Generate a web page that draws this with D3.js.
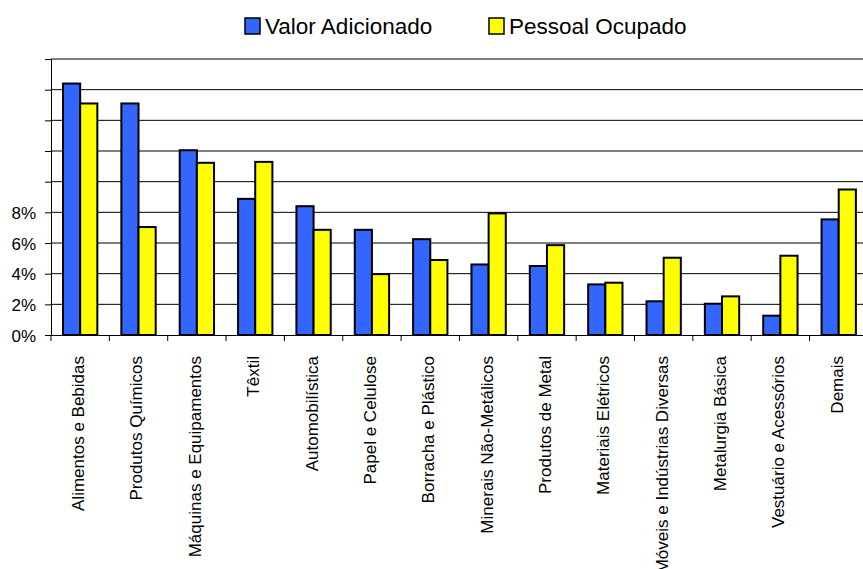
<!DOCTYPE html>
<html>
<head>
<meta charset="utf-8">
<script src="https://cdn.jsdelivr.net/npm/d3@7"></script>
<style>
  body { margin: 0; background: #fff; }
  text { font-family: "Liberation Sans", Arial, sans-serif; fill: #000; }
</style>
</head>
<body>
<div id="chart"></div>
<script>
const categories = [
  "Alimentos e Bebidas", "Produtos Químicos", "Máquinas e Equipamentos", "Têxtil",
  "Automobilística", "Papel e Celulose", "Borracha e Plástico", "Minerais Não-Metálicos",
  "Produtos de Metal", "Materiais Elétricos", "Móveis e Indústrias Diversas",
  "Metalurgia Básica", "Vestuário e Acessórios", "Demais"
];
const series = ["Valor Adicionado", "Pessoal Ocupado"];
const valorAdicionado = [16.4, 15.1, 12.05, 8.88, 8.4, 6.86, 6.25, 4.6, 4.5, 3.3, 2.2, 2.04, 1.26, 7.54];
const pessoalOcupado = [15.1, 7.04, 11.23, 11.29, 6.86, 3.97, 4.89, 7.93, 5.86, 3.41, 5.04, 2.52, 5.17, 9.49];
const yTicks = [0, 2, 4, 6, 8, 10, 12, 14, 16, 18];
const yTickLabels = ["0%", "2%", "4%", "6%", "8%", "", "", "", "", ""];
const colors = ["#3366FF", "#FFFF00"];

const width = 863, height = 569;
const plotLeft = 51, plotTop = 59, plotBottom = 335;
const bandW = 58.35;

const svg = d3.select("#chart").append("svg")
  .attr("width", width)
  .attr("height", height);

const x = d3.scaleBand()
  .domain(categories)
  .range([plotLeft, plotLeft + bandW * categories.length])
  .padding(0);

const xs = d3.scaleBand()
  .domain(series)
  .range([0, x.bandwidth()])
  .paddingInner(0)
  .paddingOuter(0.7);

const y = d3.scaleLinear()
  .domain([0, 18])
  .range([plotBottom, plotTop]);

// gridlines
svg.append("g")
  .selectAll("line")
  .data(yTicks.slice(1))
  .enter()
  .append("line")
  .attr("x1", plotLeft)
  .attr("x2", width)
  .attr("y1", d => y(d))
  .attr("y2", d => y(d))
  .attr("stroke", "#000")
  .attr("stroke-width", 1);

// y axis
const yAxis = d3.axisLeft(y)
  .tickValues(yTicks)
  .tickSize(6)
  .tickPadding(9)
  .tickFormat((d, i) => yTickLabels[i]);

svg.append("g")
  .attr("transform", `translate(${plotLeft},0)`)
  .call(yAxis)
  .call(g => g.selectAll("path, line").attr("stroke", "#000"))
  .call(g => g.selectAll("text")
    .style("font-family", "'Liberation Sans', Arial, sans-serif")
    .style("font-size", "17px")
    .attr("dy", "0.36em"));

// bars
const data = categories.map((c, i) => ({ cat: c, vals: [valorAdicionado[i], pessoalOcupado[i]] }));

const groups = svg.append("g")
  .selectAll("g")
  .data(data)
  .enter()
  .append("g")
  .attr("transform", d => `translate(${x(d.cat)},0)`);

groups.selectAll("rect")
  .data(d => d.vals.map((v, j) => ({ s: series[j], v: v, j: j })))
  .enter()
  .append("rect")
  .attr("x", d => xs(d.s))
  .attr("width", xs.bandwidth())
  .attr("y", d => y(d.v))
  .attr("height", d => y(0) - y(d.v))
  .attr("fill", d => colors[d.j])
  .attr("stroke", "#000")
  .attr("stroke-width", 2);

// x axis
const xAxis = d3.axisBottom(x).tickSize(0).tickFormat("");
svg.append("g")
  .attr("transform", `translate(0,${plotBottom})`)
  .call(xAxis)
  .call(g => g.select("path").attr("stroke", "#000"));

// category separator ticks
svg.append("g")
  .selectAll("line")
  .data(categories)
  .enter()
  .append("line")
  .attr("x1", d => x(d))
  .attr("x2", d => x(d))
  .attr("y1", plotBottom)
  .attr("y2", plotBottom + 6)
  .attr("stroke", "#000");

// category labels
svg.append("g")
  .selectAll("text")
  .data(categories)
  .enter()
  .append("text")
  .attr("transform", d => `translate(${x(d) + x.bandwidth() / 2 - 2},${plotBottom + 21}) rotate(-90)`)
  .attr("text-anchor", "end")
  .attr("dy", "0.35em")
  .style("font-size", "17px")
  .text(d => d);

// legend
const legendX = [245, 489];
const legend = svg.append("g")
  .selectAll("g")
  .data(series)
  .enter()
  .append("g")
  .attr("transform", (d, i) => `translate(${legendX[i]},18)`);

legend.append("rect")
  .attr("width", 15)
  .attr("height", 16)
  .attr("fill", (d, i) => colors[i])
  .attr("stroke", "#000")
  .attr("stroke-width", 1.5);

legend.append("text")
  .attr("x", 20)
  .attr("y", 8)
  .attr("dy", "0.36em")
  .style("font-size", "22.5px")
  .text(d => d);
</script>
</body>
</html>
